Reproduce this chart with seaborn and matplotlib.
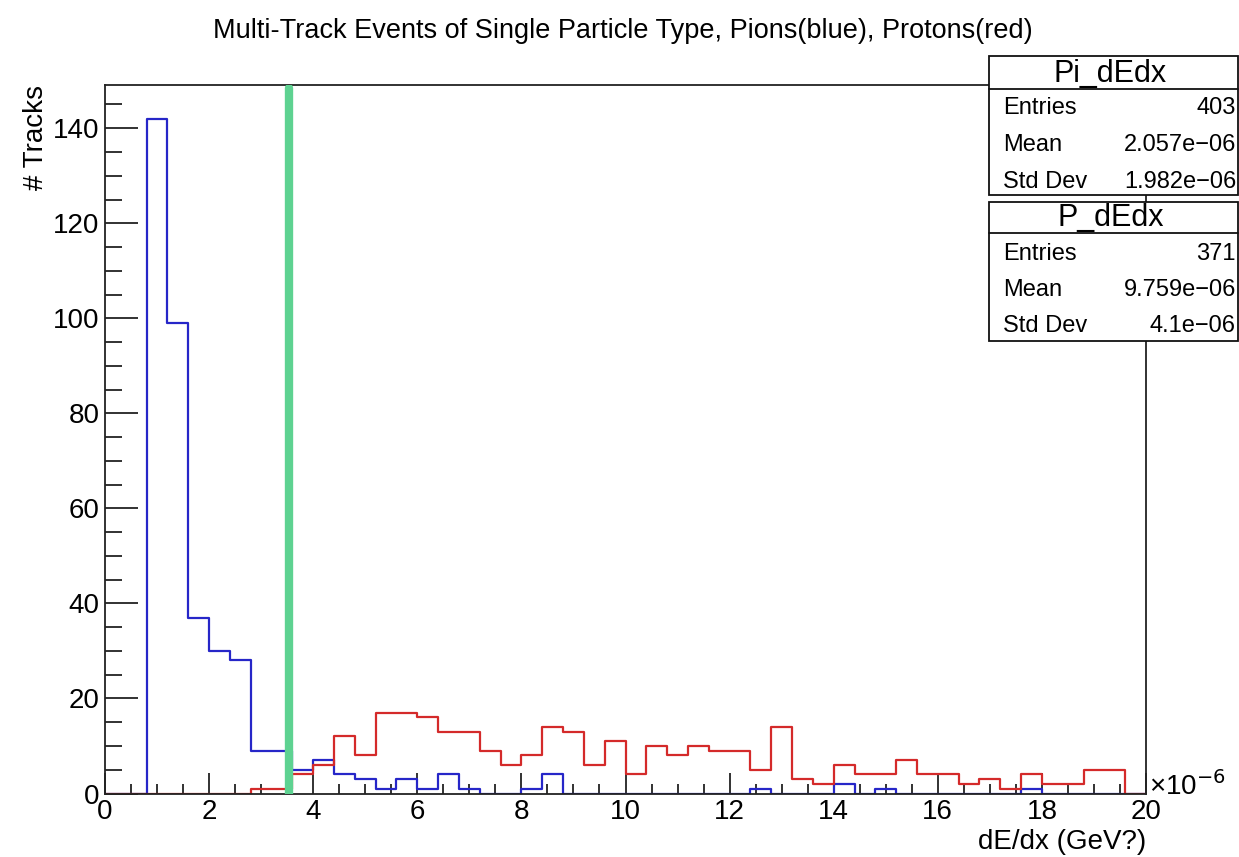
import numpy as np
import pandas as pd
import matplotlib
matplotlib.use("Agg")
import matplotlib.pyplot as plt
import seaborn as sns
from matplotlib.patches import Rectangle
from matplotlib.ticker import MultipleLocator

# ---- data (bin width 0.4, units of 1e-6 GeV) ----
bin_width = 0.4
x_range = (0, 20)
bin_centers = [round(0.2 + 0.4 * i, 2) for i in range(50)]

pion_counts = [0, 0, 142, 99, 37, 30, 28, 9, 9, 5,
               7, 4, 3, 1, 3, 1, 4, 1, 0, 0,
               1, 4, 0, 0, 0, 0, 0, 0, 0, 0,
               0, 1, 0, 0, 0, 2, 0, 1, 0, 0,
               0, 0, 0, 0, 1, 0, 0, 0, 0, 0]
proton_counts = [0, 0, 0, 0, 0, 0, 0, 1, 1, 4,
                 6, 12, 8, 17, 17, 16, 13, 13, 9, 6,
                 8, 14, 13, 6, 11, 4, 10, 8, 10, 9,
                 9, 5, 14, 3, 2, 6, 4, 4, 7, 4,
                 4, 2, 3, 1, 4, 2, 2, 5, 5, 0]

cut_value = 3.53

title = "Multi-Track Events of Single Particle Type, Pions(blue), Protons(red)"
xlabel = "dE/dx (GeV?)"
ylabel = "# Tracks"

pi_stats = [("Entries", "403"), ("Mean", "2.057e\u221206"), ("Std Dev", "1.982e\u221206")]
p_stats = [("Entries", "371"), ("Mean", "9.759e\u221206"), ("Std Dev", "4.1e\u221206")]

df = pd.DataFrame({"center": bin_centers, "pion": pion_counts, "proton": proton_counts})

# ---- style ----
sns.set_style("white")
plt.rcParams["font.family"] = ["Liberation Sans", "DejaVu Sans"]
plt.rcParams["text.color"] = "black"
plt.rcParams["axes.labelcolor"] = "black"
plt.rcParams["xtick.color"] = "#222222"
plt.rcParams["ytick.color"] = "#222222"
plt.rcParams["xtick.labelcolor"] = "black"
plt.rcParams["ytick.labelcolor"] = "black"

W, H = 1239, 857
fig = plt.figure(figsize=(W / 100, H / 100), dpi=100)

def fx(px):
    return px / W

def fy(py):
    return 1 - py / H

ax = fig.add_axes([fx(105), fy(793.5), fx(1146) - fx(105), fy(85) - fy(793.5)])

blue = "#2626c8"
red = "#d42a2a"

sns.histplot(data=df, x="center", weights="pion", binwidth=bin_width, binrange=x_range,
             element="step", fill=False, color=blue, linewidth=1.6, ax=ax)
sns.histplot(data=df, x="center", weights="proton", binwidth=bin_width, binrange=x_range,
             element="step", fill=False, color=red, linewidth=1.6, ax=ax)

ymax = 149.1
ax.axvline(cut_value, ymin=0, ymax=148.5 / ymax, color="#5ed291", linewidth=6, zorder=5)

ax.set_xlim(0, 20)
ax.set_ylim(0, ymax)

ax.xaxis.set_major_locator(MultipleLocator(2))
ax.xaxis.set_minor_locator(MultipleLocator(0.5))
ax.yaxis.set_major_locator(MultipleLocator(20))
ax.yaxis.set_minor_locator(MultipleLocator(5))
ax.tick_params(axis="both", which="both", direction="in", width=1.3,
               bottom=True, left=True, top=False, right=False)
ax.tick_params(axis="x", which="major", length=15, labelsize=20, pad=4)
ax.tick_params(axis="x", which="minor", length=7.5)
ax.tick_params(axis="y", which="major", length=24, labelsize=20, pad=4)
ax.tick_params(axis="y", which="minor", length=12)
for s in ax.spines.values():
    s.set_color("#222222")
    s.set_linewidth(1.3)

ax.set_xlabel(xlabel, fontsize=20, loc="right", labelpad=3)
ax.set_ylabel(ylabel, fontsize=20, loc="top", labelpad=3)

fig.text(fx(1149), fy(786), "\u00d710$^{-6}$", fontsize=20, ha="left", va="center")
fig.text(fx(623), fy(31), title, fontsize=19.5, ha="center", va="center")

# ---- stats boxes ----
def stats_box(top, head_bottom, bottom, name, rows, row_ys):
    left, right = 989, 1238
    fig.add_artist(Rectangle((fx(left), fy(bottom)), fx(right) - fx(left), fy(top) - fy(bottom),
                             transform=fig.transFigure, facecolor="white",
                             edgecolor="#111111", linewidth=1.3, zorder=10))
    fig.add_artist(plt.Line2D([fx(left), fx(right)], [fy(head_bottom), fy(head_bottom)],
                              transform=fig.transFigure, color="#111111", linewidth=1.3, zorder=11))
    fig.text(fx((left + right) / 2 - 3), fy((top + head_bottom) / 2 + 1), name,
             fontsize=22, ha="center", va="center", zorder=12)
    for (k, v), yy in zip(rows, row_ys):
        fig.text(fx(1003), fy(yy), k, fontsize=17, ha="left", va="center", zorder=12)
        fig.text(fx(1236), fy(yy), v, fontsize=17, ha="right", va="center", zorder=12)

stats_box(56, 89, 195, "Pi_dEdx", pi_stats, [108, 145, 182])
stats_box(202, 233, 341, "P_dEdx", p_stats, [254, 290, 326])

fig.savefig("out.png", dpi=100)
